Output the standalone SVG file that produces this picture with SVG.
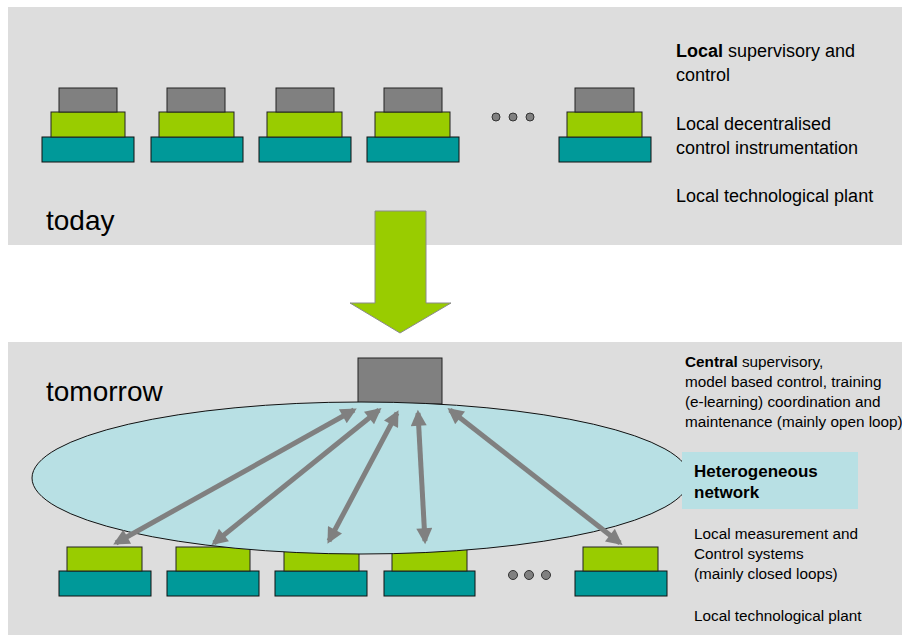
<svg xmlns="http://www.w3.org/2000/svg" width="902" height="635" viewBox="0 0 902 635">
<defs>
<style>
.panel{fill:#DDDDDD}
.g{fill:#808080;stroke:#222;stroke-width:1}
.l{fill:#99CC00;stroke:#222;stroke-width:1}
.t{fill:#009999;stroke:#111;stroke-width:1}
.dot{fill:#808080;stroke:#333;stroke-width:1}
.txt{font-family:"Liberation Sans",Arial,sans-serif;fill:#000}
.big{font-size:28px}
.m{font-size:18px}
.hb{font-size:17px}
.s{font-size:15.3px}
.b{font-weight:bold}
.conn{stroke:#808080;stroke-width:5;fill:none;marker-start:url(#ah);marker-end:url(#ah)}
</style>
<marker id="ah" viewBox="0 0 10 10" refX="8" refY="5" markerWidth="18" markerHeight="16" markerUnits="userSpaceOnUse" orient="auto-start-reverse">
<path d="M0,0 L10,5 L0,10 Z" fill="#808080"/>
</marker>
</defs>

<rect class="panel" x="8" y="7" width="894" height="238"/>
<rect class="panel" x="8" y="342" width="894" height="293"/>

<!-- today stacks -->
<g id="today-stack1">
<rect class="t" x="42" y="137" width="92" height="25"/>
<rect class="l" x="51" y="112" width="74" height="25"/>
<rect class="g" x="59" y="88" width="58" height="24"/>
</g>
<g id="today-stack2">
<rect class="t" x="151" y="137" width="92" height="25"/>
<rect class="l" x="159" y="112" width="75" height="25"/>
<rect class="g" x="167" y="88" width="58" height="24"/>
</g>
<g id="today-stack3">
<rect class="t" x="259" y="137" width="92" height="25"/>
<rect class="l" x="267" y="112" width="75" height="25"/>
<rect class="g" x="276" y="88" width="58" height="24"/>
</g>
<g id="today-stack4">
<rect class="t" x="367" y="137" width="92" height="25"/>
<rect class="l" x="375" y="112" width="75" height="25"/>
<rect class="g" x="384" y="88" width="58" height="24"/>
</g>
<g id="today-dots">
<circle class="dot" cx="496" cy="117" r="4"/>
<circle class="dot" cx="513" cy="117" r="4"/>
<circle class="dot" cx="530" cy="117" r="4"/>
</g>
<g id="today-stack5">
<rect class="t" x="559" y="137" width="92" height="25"/>
<rect class="l" x="567" y="112" width="75" height="25"/>
<rect class="g" x="575" y="88" width="59" height="24"/>
</g>

<g id="today-labels" class="txt m">
<text x="676" y="57"><tspan class="b">Local</tspan> supervisory and</text>
<text x="676" y="81">control</text>
<text x="676" y="130">Local decentralised</text>
<text x="676" y="154">control instrumentation</text>
<text x="676" y="202">Local technological plant</text>
</g>
<text class="txt big" x="46" y="230">today</text>

<g id="transition-arrow">
<path d="M375,211 L426,211 L426,303 L451,303 L400,333 L350,303 L375,303 Z" fill="#99CC00" stroke="#8a8a8a" stroke-width="1"/>
</g>

<!-- tomorrow -->
<text class="txt big" x="46" y="401">tomorrow</text>

<g id="tomorrow-stack1">
<rect class="t" x="59" y="571" width="92" height="25"/>
<rect class="l" x="67" y="547" width="75" height="24"/>
</g>
<g id="tomorrow-stack2">
<rect class="t" x="167" y="571" width="92" height="25"/>
<rect class="l" x="176" y="547" width="74" height="24"/>
</g>
<g id="tomorrow-stack3">
<rect class="t" x="275" y="571" width="92" height="25"/>
<rect class="l" x="284" y="547" width="75" height="24"/>
</g>
<g id="tomorrow-stack4">
<rect class="t" x="384" y="571" width="91" height="25"/>
<rect class="l" x="392" y="547" width="75" height="24"/>
</g>
<g id="tomorrow-dots">
<circle class="dot" cx="513" cy="575" r="4.5"/>
<circle class="dot" cx="529" cy="575" r="4.5"/>
<circle class="dot" cx="546" cy="575" r="4.5"/>
</g>
<g id="tomorrow-stack5">
<rect class="t" x="575" y="571" width="92" height="25"/>
<rect class="l" x="583" y="547" width="75" height="24"/>
</g>

<g id="central">
<rect class="g" x="358" y="358" width="84" height="46"/>
</g>

<g id="network">
<ellipse cx="361" cy="478" rx="329" ry="76" fill="#B8E0E4" stroke="#111" stroke-width="1"/>
<rect x="682" y="452" width="176" height="57" fill="#B8E0E4"/>
<text class="txt hb b" x="694" y="477">Heterogeneous</text>
<text class="txt hb b" x="694" y="498">network</text>
</g>

<g id="connectors">
<line class="conn" x1="354" y1="410" x2="116" y2="543"/>
<line class="conn" x1="379" y1="410" x2="214" y2="543"/>
<line class="conn" x1="397" y1="413" x2="329" y2="541"/>
<line class="conn" x1="418" y1="413" x2="425" y2="541"/>
<line class="conn" x1="450" y1="410" x2="620" y2="543"/>
</g>

<g id="tomorrow-labels" class="txt s">
<text x="685" y="367"><tspan class="b">Central</tspan> supervisory,</text>
<text x="685" y="387">model based control, training</text>
<text x="685" y="407">(e-learning) coordination and</text>
<text x="685" y="427">maintenance (mainly open loop)</text>
<text x="694" y="539">Local measurement and</text>
<text x="694" y="559">Control systems</text>
<text x="694" y="579">(mainly closed loops)</text>
<text x="694" y="621">Local technological plant</text>
</g>
</svg>
